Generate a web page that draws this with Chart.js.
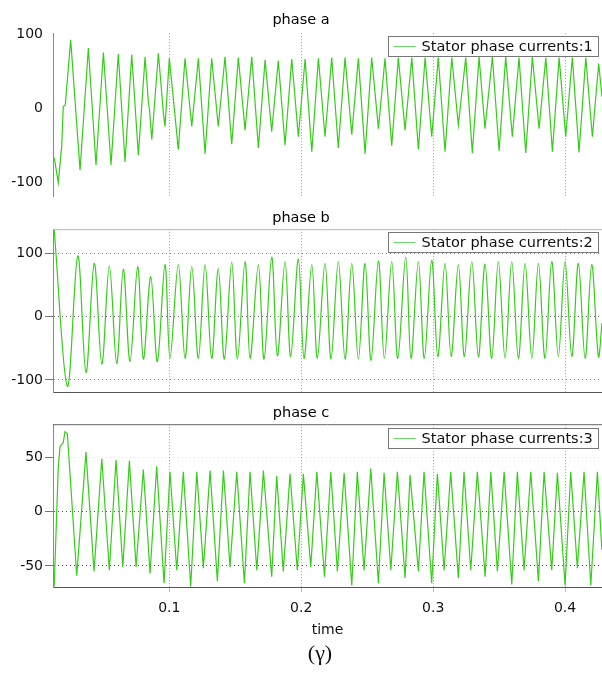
<!DOCTYPE html>
<html>
<head>
<meta charset="utf-8">
<script src="https://cdn.jsdelivr.net/npm/chart.js@4.4.1/dist/chart.umd.min.js"></script>
<style>
  body { margin: 0; background: #fff; width: 602px; height: 675px; position: relative; overflow: hidden; }
  .panel { position: absolute; left: 0; width: 602px; }
  #caption { position: absolute; left: 0; top: 640px; width: 640px; text-align: center;
             font-family: "Liberation Serif", serif; font-size: 22px; color: #111; }
</style>
</head>
<body>
<div class="panel" style="top:0px;height:200px"><canvas id="chartA" width="602" height="200"></canvas></div>
<div class="panel" style="top:200px;height:195px"><canvas id="chartB" width="602" height="195"></canvas></div>
<div class="panel" style="top:395px;height:280px"><canvas id="chartC" width="602" height="280"></canvas></div>
<div id="caption">(γ)</div>
<script>
// time axis
var timeMin = 0.0118;
var timeMax = 0.428;
var timeTicks = [0.1, 0.2, 0.3, 0.4];

// phase a : stator current 1 (turning points)
var timeA = [0.0121, 0.0130, 0.0158, 0.0184, 0.0196, 0.0211, 0.0252, 0.0323, 0.0386, 0.0444,
  0.0500, 0.0558, 0.0613, 0.0664, 0.0715, 0.0765, 0.0816, 0.0841, 0.0850, 0.0867,
  0.0917, 0.0955, 0.0967, 0.1000, 0.1068, 0.1119, 0.1170, 0.1220, 0.1271, 0.1321,
  0.1371, 0.1422, 0.1473, 0.1523, 0.1574, 0.1625, 0.1675, 0.1726, 0.1776, 0.1826,
  0.1877, 0.1928, 0.1978, 0.2029, 0.2080, 0.2130, 0.2180, 0.2231, 0.2281, 0.2332,
  0.2383, 0.2433, 0.2484, 0.2534, 0.2585, 0.2635, 0.2686, 0.2736, 0.2787, 0.2838,
  0.2888, 0.2939, 0.2989, 0.3039, 0.3090, 0.3141, 0.3191, 0.3247, 0.3297, 0.3348,
  0.3393, 0.3449, 0.3500, 0.3550, 0.3600, 0.3651, 0.3702, 0.3752, 0.3803, 0.3854,
  0.3904, 0.3955, 0.4005, 0.4055, 0.4106, 0.4157, 0.4207, 0.4255, 0.4280];
var currA = [-66, -70, -101, -52, 2, 4, 92, -84, 81, -77,
  75, -77, 73, -73, 72, -64, 69, 8, -3, -43,
  74, -7, -25, 67, -56, 67, -25, 67, -62, 67,
  -25, 69, -49, 68, -30, 69, -54, 65, -32, 64,
  -50, 66, -39, 66, -59, 67, -39, 68, -54, 68,
  -36, 67, -62, 68, -28, 67, -51, 68, -30, 68,
  -56, 68, -39, 68, -59, 68, -23, 68, -61, 69,
  -28, 69, -58, 69, -39, 68, -61, 69, -28, 68,
  -59, 68, -39, 68, -60, 68, -39, 60, 15];

// phase b : stator current 2
var timeB = [0.0127, 0.0227, 0.0306, 0.0368, 0.0431, 0.0488, 0.0545, 0.0601, 0.0651, 0.0702,
  0.0760, 0.0803, 0.0859, 0.0909, 0.0967, 0.1005, 0.1068, 0.1119, 0.1170, 0.1220,
  0.1271, 0.1321, 0.1371, 0.1417, 0.1473, 0.1516, 0.1574, 0.1612, 0.1675, 0.1718,
  0.1776, 0.1819, 0.1877, 0.1920, 0.1978, 0.2021, 0.2080, 0.2122, 0.2180, 0.2226,
  0.2281, 0.2332, 0.2383, 0.2433, 0.2484, 0.2529, 0.2585, 0.2630, 0.2686, 0.2732,
  0.2792, 0.2832, 0.2888, 0.2933, 0.2989, 0.3035, 0.3090, 0.3136, 0.3191, 0.3237,
  0.3293, 0.3343, 0.3393, 0.3444, 0.3494, 0.3545, 0.3596, 0.3646, 0.3697, 0.3748,
  0.3798, 0.3848, 0.3899, 0.3949, 0.4000, 0.4051, 0.4101, 0.4152, 0.4202, 0.4253, 0.4280];
var currB = [137, -110, 96, -88, 84, -75, 80, -74, 75, -71,
  79, -67, 63, -71, 82, -66, 82, -66, 79, -66,
  82, -66, 76, -67, 86, -67, 87, -66, 82, -67,
  94, -62, 87, -63, 91, -66, 82, -66, 84, -67,
  87, -67, 84, -67, 84, -69, 88, -66, 87, -66,
  94, -66, 87, -66, 89, -63, 84, -63, 82, -63,
  87, -64, 83, -66, 87, -66, 87, -66, 84, -66,
  84, -66, 87, -63, 87, -63, 84, -66, 82, -63, -10];

// phase c : stator current 3
var timeC = [0.0127, 0.0158, 0.0171, 0.0196, 0.0209, 0.0227, 0.0298, 0.0368, 0.0429, 0.0488,
  0.0545, 0.0596, 0.0647, 0.0697, 0.0748, 0.0803, 0.0854, 0.0904, 0.0960, 0.1005,
  0.1056, 0.1106, 0.1162, 0.1208, 0.1258, 0.1309, 0.1364, 0.1410, 0.1460, 0.1511,
  0.1569, 0.1612, 0.1663, 0.1713, 0.1776, 0.1814, 0.1864, 0.1915, 0.1970, 0.2016,
  0.2072, 0.2118, 0.2176, 0.2224, 0.2274, 0.2325, 0.2383, 0.2425, 0.2476, 0.2527,
  0.2585, 0.2628, 0.2679, 0.2729, 0.2787, 0.2825, 0.2888, 0.2931, 0.2989, 0.3032,
  0.3083, 0.3133, 0.3191, 0.3234, 0.3285, 0.3335, 0.3394, 0.3437, 0.3487, 0.3538,
  0.3596, 0.3638, 0.3689, 0.3740, 0.3798, 0.3841, 0.3899, 0.3942, 0.4000, 0.4043,
  0.4093, 0.4144, 0.4195, 0.4245, 0.4279];
var currC = [-69, 41, 60, 64, 74, 72, -59, 55, -55, 49,
  -54, 48, -51, 47, -51, 39, -57, 42, -66, 37,
  -54, 37, -69, 37, -52, 38, -64, 38, -51, 37,
  -66, 37, -54, 38, -60, 33, -55, 35, -54, 35,
  -51, 37, -60, 37, -55, 36, -68, 37, -54, 40,
  -66, 36, -54, 37, -61, 34, -55, 37, -66, 35,
  -54, 37, -61, 37, -54, 37, -60, 37, -55, 37,
  -67, 37, -54, 37, -64, 37, -54, 36, -68, 37,
  -52, 37, -68, 37, -35];

Chart.defaults.font.family = '"DejaVu Sans", Verdana, sans-serif';
Chart.defaults.font.size = 14;
Chart.defaults.color = '#111';

// box edges + legend drawn on top of the plot
var framePlugin = {
  id: 'frame',
  afterDraw: function(chart, args, opts) {
    var ctx = chart.ctx;
    var area = chart.chartArea;
    ctx.save();
    ctx.lineWidth = 1;
    if (opts.topColor) {
      ctx.strokeStyle = opts.topColor;
      ctx.beginPath();
      ctx.moveTo(area.left, area.top + 0.5);
      ctx.lineTo(area.right, area.top + 0.5);
      ctx.stroke();
    }
    var w = 210, h = 20;
    var x = Math.round(area.right - 214) + 0.5;
    var y = Math.round(area.top + opts.legendOffset) + 0.5;
    ctx.fillStyle = '#fff';
    ctx.fillRect(x, y, w, h);
    ctx.strokeStyle = '#777';
    ctx.strokeRect(x, y, w, h);
    ctx.strokeStyle = '#6ad86a';
    ctx.beginPath();
    ctx.moveTo(x + 5, y + 10);
    ctx.lineTo(x + 27, y + 10);
    ctx.stroke();
    ctx.fillStyle = '#111';
    ctx.font = '14.5px "DejaVu Sans", Verdana, sans-serif';
    ctx.textBaseline = 'middle';
    ctx.fillText(opts.label, x + 33, y + 10.5);
    ctx.restore();
  }
};

function dotted(zeroColor, otherColor) {
  return function(c) {
    return c.tick && c.tick.value === 0 ? zeroColor : otherColor;
  };
}

function makeChart(canvasId, times, values, cfg) {
  var points = times.map(function(t, i) { return { x: t, y: values[i] }; });
  var showTime = cfg.showTime;
  return new Chart(document.getElementById(canvasId), {
    type: 'line',
    data: {
      datasets: [{
        label: cfg.label,
        data: points,
        borderColor: 'rgb(52,206,24)',
        borderWidth: 1.2,
        pointRadius: 0,
        tension: cfg.tension,
        fill: false
      }]
    },
    plugins: [framePlugin],
    options: {
      responsive: false,
      animation: false,
      events: [],
      layout: { padding: { left: 0, right: 0, top: 0, bottom: cfg.padBottom } },
      plugins: {
        legend: { display: false },
        tooltip: { enabled: false },
        title: {
          display: true,
          text: cfg.title,
          color: '#000',
          font: { size: 14.5, weight: 'normal' },
          padding: { top: cfg.titleTop, bottom: cfg.titleBottom }
        },
        frame: { label: cfg.label, topColor: cfg.topColor, legendOffset: cfg.legendOffset }
      },
      scales: {
        x: {
          type: 'linear',
          min: timeMin,
          max: timeMax,
          afterBuildTicks: function(axis) {
            axis.ticks = timeTicks.map(function(v) { return { value: v }; });
          },
          afterFit: function(axis) {
            axis.height = showTime ? 60 : 0;
            axis.paddingLeft = 0;
            axis.paddingRight = 0;
          },
          ticks: { display: showTime, padding: 8, color: '#111', font: { size: 14 } },
          grid: {
            color: '#9a9a9a',
            drawTicks: showTime,
            tickLength: 5,
            tickColor: '#bbb'
          },
          border: { display: cfg.bottomColor !== null, color: cfg.bottomColor || '#fff', width: 1, dash: [1, 2] },
          title: {
            display: showTime,
            text: 'time',
            color: '#111',
            font: { size: 14 },
            padding: { top: 0, bottom: 8 }
          }
        },
        y: {
          type: 'linear',
          min: cfg.yMin,
          max: cfg.yMax,
          afterBuildTicks: function(axis) {
            axis.ticks = cfg.yTicks.map(function(v) { return { value: v }; });
          },
          afterFit: function(axis) {
            axis.width = 53;
            axis.paddingTop = 0;
            axis.paddingBottom = 0;
          },
          ticks: { padding: cfg.yTickMarks ? 2 : 10, color: '#111', font: { size: 14 } },
          grid: {
            display: cfg.yGrid,
            color: cfg.yGridColor,
            drawTicks: cfg.yTickMarks,
            tickLength: 8,
            tickColor: '#777'
          },
          border: { display: true, color: '#8a8a8a', width: 1, dash: [1, 3] }
        }
      }
    }
  });
}

makeChart('chartA', timeA, currA, {
  title: 'phase a', label: 'Stator phase currents:1',
  yMin: -119, yMax: 101, yTicks: [-100, 0, 100],
  yGrid: false, yGridColor: '#999', yTickMarks: false,
  titleTop: 12, titleBottom: 3.8, padBottom: 4,
  topColor: null, bottomColor: null, legendOffset: 3,
  showTime: false, tension: 0
});

makeChart('chartB', timeB, currB, {
  title: 'phase b', label: 'Stator phase currents:2',
  yMin: -119, yMax: 138, yTicks: [-100, 0, 100],
  yGrid: true, yGridColor: dotted('#666', '#888'), yTickMarks: true,
  titleTop: 10, titleBottom: 1.8, padBottom: 3,
  topColor: '#b5b5b5', bottomColor: '#555', legendOffset: 3,
  showTime: false, tension: 0.35
});

makeChart('chartC', timeC, currC, {
  title: 'phase c', label: 'Stator phase currents:3',
  yMin: -69.4, yMax: 80.8, yTicks: [-50, 0, 50],
  yGrid: true, yGridColor: function(c) { return c.tick && c.tick.value === 50 ? '#e2e2e2' : '#555'; },
  yTickMarks: true,
  titleTop: 10, titleBottom: 1.8, padBottom: 28,
  topColor: '#666', bottomColor: '#555', legendOffset: 4,
  showTime: true, tension: 0
});
</script>
</body>
</html>
